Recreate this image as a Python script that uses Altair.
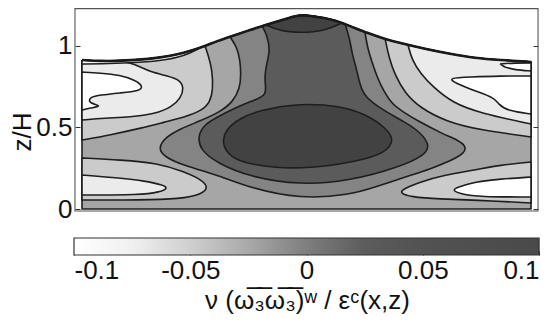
import altair as alt
import pandas as pd

# ---------------- data (x/L, z/H) ----------------
# hill surface (top of the domain)
SURFACE_X = [0.000, 0.040, 0.085, 0.151, 0.196, 0.225, 0.263, 0.301, 0.341, 0.374, 0.408, 0.448, 0.474,
             0.492, 0.512, 0.541, 0.559, 0.597, 0.635, 0.675, 0.708, 0.764, 0.820, 0.875, 0.931, 1.000]
SURFACE_Z = [0.914, 0.908, 0.908, 0.920, 0.939, 0.957, 0.988, 1.031, 1.067, 1.098, 1.129, 1.160, 1.184,
             1.190, 1.184, 1.172, 1.160, 1.123, 1.080, 1.043, 1.018, 0.982, 0.951, 0.926, 0.914, 0.902]

# whole domain (band -0.025 .. 0)
BASE_X = [1.0, 0.0]
BASE_Z = [0.0, 0.0]

# contour 0 (region >= 0), closes along the surface
GE0_X = [0.630, 0.637, 0.646, 0.657, 0.673, 0.690, 0.719, 0.748, 0.804, 0.837, 0.855, 0.853, 0.820, 0.775,
         0.726, 0.653, 0.597, 0.486, 0.374, 0.296, 0.229, 0.183, 0.169, 0.187, 0.218, 0.263, 0.307, 0.336,
         0.352, 0.354, 0.352, 0.345, 0.330]
GE0_Z = [1.086, 0.975, 0.902, 0.810, 0.718, 0.644, 0.589, 0.540, 0.460, 0.423, 0.387, 0.344, 0.294, 0.245,
         0.202, 0.135, 0.086, 0.061, 0.129, 0.215, 0.264, 0.319, 0.374, 0.442, 0.491, 0.540, 0.595, 0.656,
         0.742, 0.828, 0.914, 0.994, 1.055]

# contour 0.025 (column + ring)
GE1_X = [0.586, 0.597, 0.601, 0.612, 0.619, 0.630, 0.670, 0.719, 0.753, 0.775, 0.764, 0.708, 0.597, 0.486,
         0.374, 0.301, 0.263, 0.258, 0.274, 0.301, 0.341, 0.379, 0.414, 0.405, 0.412, 0.419, 0.412, 0.401]
GE1_Z = [1.135, 1.037, 0.957, 0.853, 0.761, 0.687, 0.607, 0.534, 0.472, 0.393, 0.331, 0.258, 0.172, 0.147,
         0.196, 0.282, 0.362, 0.454, 0.521, 0.564, 0.620, 0.663, 0.699, 0.791, 0.902, 0.975, 1.067, 1.123]

# contour 0.05: core and crest cap
CORE_X = [0.312, 0.318, 0.352, 0.396, 0.486, 0.575, 0.630, 0.675, 0.697, 0.675, 0.619, 0.486, 0.374, 0.330]
CORE_Z = [0.393, 0.485, 0.558, 0.607, 0.650, 0.632, 0.583, 0.503, 0.423, 0.344, 0.294, 0.239, 0.270, 0.319]
CAP_X = [0.579, 0.541, 0.486, 0.441, 0.410]
CAP_Z = [1.141, 1.092, 1.080, 1.092, 1.129]

# contour -0.025 (regions <= -0.025)
LEFT_LE1_X = [0.274, 0.281, 0.290, 0.292, 0.285, 0.269, 0.229, 0.185, 0.134, 0.062, 0.000]
LEFT_LE1_Z = [1.000, 0.945, 0.853, 0.730, 0.656, 0.607, 0.564, 0.534, 0.497, 0.454, 0.423]
RIGHT_LE1_X = [1.000, 1.000, 0.886, 0.813, 0.753, 0.719, 0.697, 0.684, 0.675]
RIGHT_LE1_Z = [0.902, 0.442, 0.485, 0.534, 0.620, 0.712, 0.822, 0.926, 1.043]
BL_LE1_X = [0.000, 0.085, 0.169, 0.229, 0.267, 0.281, 0.269, 0.218, 0.129, 0.000]
BL_LE1_Z = [0.313, 0.301, 0.282, 0.227, 0.178, 0.135, 0.092, 0.061, 0.055, 0.055]
BR_LE1_X = [1.000, 0.931, 0.875, 0.808, 0.753, 0.715, 0.708, 0.731, 0.797, 0.875, 1.000]
BR_LE1_Z = [0.288, 0.270, 0.239, 0.209, 0.166, 0.123, 0.098, 0.074, 0.061, 0.055, 0.037]

# contour -0.05
LEFT_LE2_X = [0.085, 0.118, 0.151, 0.192, 0.218, 0.227, 0.220, 0.200, 0.163, 0.107, 0.051, 0.000]
LEFT_LE2_Z = [0.908, 0.890, 0.840, 0.816, 0.791, 0.742, 0.681, 0.626, 0.583, 0.564, 0.558, 0.546]
RIGHT_LE2_X = [1.000, 1.000, 0.886, 0.826, 0.782, 0.753, 0.735, 0.726]
RIGHT_LE2_Z = [0.902, 0.521, 0.589, 0.650, 0.748, 0.834, 0.914, 1.006]
BL_LE2_X = [0.000, 0.085, 0.140, 0.180, 0.192, 0.174, 0.129, 0.000]
BL_LE2_Z = [0.209, 0.190, 0.172, 0.147, 0.129, 0.104, 0.086, 0.086]

# contour -0.075
LEFT_LE3_X = [0.000, 0.040, 0.085, 0.118, 0.136, 0.129, 0.085, 0.040, 0.018, 0.013, 0.047, 0.018, 0.000]
LEFT_LE3_Z = [0.840, 0.834, 0.822, 0.791, 0.755, 0.724, 0.712, 0.699, 0.687, 0.650, 0.632, 0.620, 0.607]
SLIVER_L_X = [0.263, 0.229, 0.174, 0.107, 0.040, 0.000]
SLIVER_L_Z = [0.988, 0.939, 0.908, 0.896, 0.890, 0.890]
RIGHT_LE3_X = [0.815, 0.864, 0.931, 1.000, 1.000, 0.949, 0.926, 0.920, 0.875, 0.831]
RIGHT_LE3_Z = [0.804, 0.810, 0.816, 0.816, 0.583, 0.601, 0.644, 0.681, 0.724, 0.773]
SLIVER_R_X = [0.931, 0.964, 1.000, 1.000, 0.964, 0.942]
SLIVER_R_Z = [0.890, 0.896, 0.896, 0.847, 0.853, 0.871]
BR_LE3_X = [1.000, 0.931, 0.875, 0.837, 0.824, 0.842, 0.886, 1.000]
BR_LE3_Z = [0.196, 0.184, 0.166, 0.135, 0.117, 0.092, 0.074, 0.074]

# colour bar
CB_TICKS = [-0.1, -0.05, 0.0, 0.05, 0.1]
CB_STOP_VALUES = [-0.1, -0.075, -0.05, -0.025, 0.0, 0.025, 0.05, 0.1]
CB_STOP_GRAYS = ["#ffffff", "#f0f0f0", "#cfcfcf", "#a9a9a9", "#7e7e7e", "#5c5c5c", "#525252", "#4a4a4a"]

# ---------------- styling ----------------
LEVEL_FILL = {"c0": "#ffffff", "c1": "#ebebeb", "c2": "#cbcbcb", "c3": "#a6a6a6",
              "c4": "#848484", "c5": "#5b5b5b", "c6": "#424242"}
LINE = "#1e1e1e"
FONT = "Liberation Sans"
FS = 26

X_DOM = [-0.0178, 1.0200]
Z_DOM = [-0.2822, 1.2331]
FRAME = {"x0": -0.0156, "x1": 1.0156, "z0": -0.0123, "z1": 1.229}
CB_DOM = [-0.1, 0.1004]
CB_Z = [-0.2822, -0.178]


def surface_segment(x_lo, x_hi):
    return [(x, z) for x, z in zip(SURFACE_X, SURFACE_Z) if x_lo <= x <= x_hi]


regions = [
    ("base", "c3", BASE_X, BASE_Z, True),
    ("ge0", "c4", GE0_X, GE0_Z, True),
    ("ge1", "c5", GE1_X, GE1_Z, True),
    ("core", "c6", CORE_X, CORE_Z, False),
    ("cap", "c6", CAP_X, CAP_Z, True),
    ("l_le1", "c2", LEFT_LE1_X, LEFT_LE1_Z, True),
    ("r_le1", "c2", RIGHT_LE1_X, RIGHT_LE1_Z, True),
    ("bl_le1", "c2", BL_LE1_X, BL_LE1_Z, False),
    ("br_le1", "c2", BR_LE1_X, BR_LE1_Z, False),
    ("l_le2", "c1", LEFT_LE2_X, LEFT_LE2_Z, True),
    ("r_le2", "c1", RIGHT_LE2_X, RIGHT_LE2_Z, True),
    ("bl_le2", "c1", BL_LE2_X, BL_LE2_Z, False),
    ("l_le3", "c0", LEFT_LE3_X, LEFT_LE3_Z, False),
    ("sl_l", "c0", SLIVER_L_X, SLIVER_L_Z, True),
    ("r_le3", "c0", RIGHT_LE3_X, RIGHT_LE3_Z, False),
    ("sl_r", "c0", SLIVER_R_X, SLIVER_R_Z, True),
    ("br_le3", "c0", BR_LE3_X, BR_LE3_Z, False),
]

rows = []
for pid, level, bx, bz, on_surface in regions:
    pts = list(zip(bx, bz))
    corners = {0, len(pts) - 1} if on_surface else set()
    if on_surface:
        seg = surface_segment(bx[-1], bx[0])
        pts = seg + pts
        corners = {c + len(seg) for c in corners}
    k = 0
    for j, (x, z) in enumerate(pts):
        # repeat points on domain edges / surface junctions so the B-spline keeps sharp corners
        reps = 3 if (j in corners or x in (0.0, 1.0) or z == 0.0) else 1
        for _ in range(reps):
            rows.append({"pid": pid, "level": level, "i": k, "x": x, "z": z})
            k += 1
poly_df = pd.DataFrame(rows)
surf_df = pd.DataFrame({"x": SURFACE_X, "z": SURFACE_Z})

XS = alt.Scale(domain=X_DOM, nice=False, zero=False)
YS = alt.Scale(domain=Z_DOM, nice=False, zero=False)

left_axis = alt.Axis(values=[0, 0.5, 1], labelFontSize=FS, labelFont=FONT, labelColor="#111",
                     tickSize=5, tickColor="#333", tickWidth=1, domain=False, grid=False,
                     offset=-6, labelPadding=3, title="z/H", titleFont=FONT, titleFontSize=FS,
                     titleFontWeight="normal", titleColor="#111", titlePadding=0,
                     labelExpr="datum.value == 0.5 ? '0.5' : format(datum.value, 'd')")
right_axis = alt.Axis(values=[0, 0.5, 1], orient="right", labels=False, tickSize=5, tickColor="#333",
                      domain=False, grid=False, offset=-7, title=None)


def band_layer(level, axis=None):
    return alt.Chart(poly_df).transform_filter(alt.datum.level == level).mark_line(
        fill=LEVEL_FILL[level], stroke=LINE, strokeWidth=1.6, strokeJoin="round",
        interpolate="basis-closed"
    ).encode(
        x=alt.X("x:Q", scale=XS, axis=None),
        y=alt.Y("z:Q", scale=YS, axis=axis),
        detail="pid:N",
        order="i:Q",
    )


layers = [band_layer("c3", left_axis)] + [band_layer(l) for l in ["c4", "c5", "c6", "c2", "c1", "c0"]]

surface = alt.Chart(surf_df).mark_line(stroke="#1a1a1a", strokeWidth=2.6, interpolate="basis").encode(
    x=alt.X("x:Q", scale=XS, axis=None), y=alt.Y("z:Q", scale=YS, axis=None))

frame = alt.Chart(pd.DataFrame([FRAME])).mark_rect(fill=None, stroke="#555", strokeWidth=1.1).encode(
    x=alt.X("x0:Q", scale=XS, axis=None), x2="x1",
    y=alt.Y("z0:Q", scale=YS, axis=right_axis), y2="z1")

stops = [alt.GradientStop(color=g, offset=(v - CB_TICKS[0]) / (CB_TICKS[-1] - CB_TICKS[0]))
         for v, g in zip(CB_STOP_VALUES, CB_STOP_GRAYS)]
cb_df = pd.DataFrame({"v0": [CB_TICKS[0]], "v1": [CB_TICKS[-1]], "z0": [CB_Z[0]], "z1": [CB_Z[1]]})
colorbar = alt.Chart(cb_df).mark_rect(
    fill=alt.LinearGradient(gradient="linear", stops=stops, x1=0, x2=1, y1=0, y2=0),
    stroke="#333", strokeWidth=1.2
).encode(
    x=alt.X("v0:Q", scale=alt.Scale(domain=CB_DOM, nice=False, zero=False),
            axis=alt.Axis(values=CB_TICKS, orient="bottom", labelFontSize=FS, labelFont=FONT,
                          labelColor="#111", tickSize=4, tickColor="#333", domain=False, grid=False,
                          offset=-4, labelPadding=2,
                          labelExpr="datum.value < 0 ? '-' + format(-datum.value, '~g') : format(datum.value, '~g')",
                          title="ν (ω̅₃̅ω̅₃̅)ʷ /  εᶜ(x,z)", titleFont=FONT, titleFontSize=FS,
                          titleFontWeight="normal", titleColor="#111", titlePadding=4)),
    x2="v1",
    y=alt.Y("z0:Q", scale=YS, axis=None), y2="z1",
)

chart = alt.layer(*layers, surface, frame, colorbar).resolve_scale(x="independent").resolve_axis(
    y="independent"
).properties(
    width=466, height=247,
    autosize=alt.AutoSizeParams(type="none"),
    padding={"left": 66, "top": 0, "right": 10, "bottom": 70},
).configure_view(stroke=None)

chart.save("out.html", embed_options={"renderer": "svg", "actions": False})
